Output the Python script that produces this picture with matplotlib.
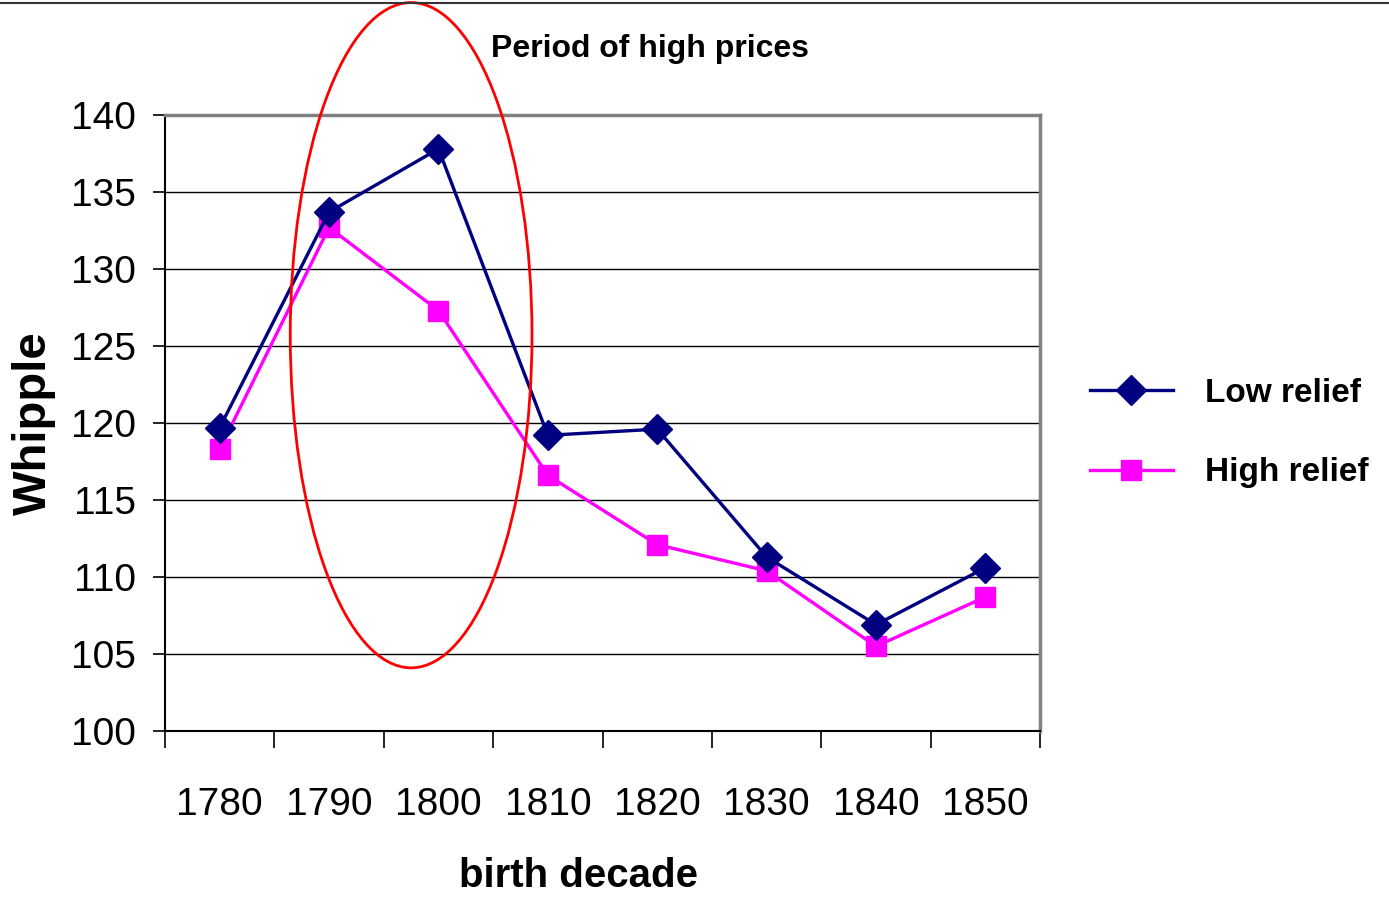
import matplotlib
matplotlib.use('Agg')
import matplotlib.pyplot as plt
from matplotlib.patches import Ellipse
from matplotlib.lines import Line2D

decades = ['1780', '1790', '1800', '1810', '1820', '1830', '1840', '1850']
low_relief = [119.7, 133.7, 137.8, 119.2, 119.6, 111.3, 106.9, 110.6]
high_relief = [118.3, 132.7, 127.3, 116.6, 112.1, 110.4, 105.5, 108.7]

fam = ['Liberation Sans', 'DejaVu Sans']

fig = plt.figure(figsize=(13.89, 8.99), dpi=100)
ax = fig.add_axes([0.1188, 0.1869, 0.630, 0.6852])

x = [i + 0.5 for i in range(len(decades))]
ax.plot(x, low_relief, color='#000080', lw=2.4, marker='D', ms=15,
        label='Low relief', clip_on=False, zorder=4)
ax.plot(x, high_relief, color='#ff00ff', lw=2.4, marker='s', ms=14,
        label='High relief', clip_on=False, zorder=3)

ax.set_xlim(0, len(decades))
ax.set_ylim(100, 140)
ax.set_yticks(range(100, 141, 5))
ax.set_xticks(range(len(decades) + 1))
ax.set_xticklabels([])
ax.set_xticks(x, minor=True)
ax.set_xticklabels(decades, minor=True)
ax.tick_params(axis='x', which='major', direction='out', length=12, width=1.2, color='black')
ax.tick_params(axis='x', which='minor', length=0, pad=40)
ax.tick_params(axis='y', direction='out', length=9, width=1.2, pad=12)
for lab in ax.get_xticklabels(minor=True) + ax.get_yticklabels():
    lab.set_fontfamily(fam)
    lab.set_fontsize(28)

ax.grid(axis='y', color='black', lw=1)
ax.set_axisbelow(True)
for side in ['top', 'right']:
    ax.spines[side].set_color('#808080')
    ax.spines[side].set_linewidth(2.5)
for side in ['left', 'bottom']:
    ax.spines[side].set_color('black')
    ax.spines[side].set_linewidth(1.5)

# highlight ellipse
ell = Ellipse((2.25, 125.7), 2.21, 43.2, fill=False, edgecolor='red', lw=2,
              clip_on=False, zorder=5)
ax.add_patch(ell)

fig.text(0.468, 0.9455, 'Period of high prices', fontsize=23, fontweight='bold',
         family=fam, ha='center', va='center')
ax.set_ylabel('Whipple', fontsize=34, fontweight='bold', family=fam, labelpad=11)
ax.set_xlabel('birth decade', fontsize=29, fontweight='bold', family=fam)
ax.xaxis.set_label_coords(0.473, -0.205)

ax.legend(loc='center left', bbox_to_anchor=(0.763, 0.518), bbox_transform=fig.transFigure,
          frameon=False, prop={'family': fam, 'weight': 'bold', 'size': 24},
          handlelength=2.5, handletextpad=0.95, labelspacing=1.45)

fig.add_artist(Line2D([0, 1], [0.9965, 0.9965], color='#333333', lw=1.5))

fig.savefig('out.png', dpi=100)
